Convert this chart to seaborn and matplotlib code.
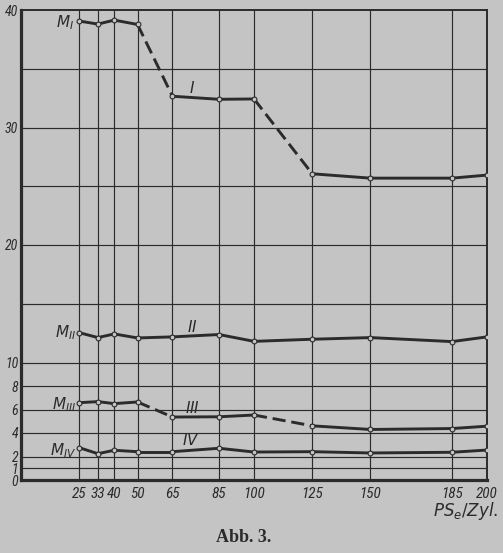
import matplotlib
matplotlib.use("Agg")
import matplotlib.pyplot as plt
from matplotlib import font_manager
import seaborn as sns
import pandas as pd

# ---- data ----
ps_zyl = [25, 33, 40, 50, 65, 85, 100, 125, 150, 185, 200]
curve_I = [39.06, 38.8, 39.14, 38.77, 32.66, 32.4, 32.43, 26.06, 25.69, 25.69, 25.95]
curve_II = [12.54, 12.12, 12.43, 12.09, 12.18, 12.38, 11.8, 11.98, 12.12, 11.78, 12.18]
curve_III = [6.58, 6.67, 6.5, 6.64, 5.36, 5.38, 5.53, 4.61, 4.3, 4.38, 4.58]
curve_IV = [2.75, 2.24, 2.53, 2.41, 2.41, 2.7, 2.38, 2.41, 2.3, 2.36, 2.55]
curve_names = ["I", "II", "III", "IV"]
ytick_values = [0, 1, 2, 4, 6, 8, 10, 15, 20, 25, 30, 35, 40]
ytick_labels = ["0", "1", "2", "4", "6", "8", "10", "", "20", "", "30", "", "40"]
xtick_labels = ["25", "33", "40", "50", "65", "85", "100", "125", "150", "185", "200"]
dashed_curves = ["I", "III"]

series = {"I": curve_I, "II": curve_II, "III": curve_III, "IV": curve_IV}
df = pd.concat([pd.DataFrame({"x": ps_zyl, "y": v, "curve": k}) for k, v in series.items()],
               ignore_index=True)

BG = "#c4c4c4"
INK = "#2b2b2b"

sns.set_theme(style="white")

# pick a narrow font if one is installed
names = {f.name for f in font_manager.fontManager.ttflist}
narrow = None
for cand in ["Liberation Sans Narrow", "DejaVu Sans Condensed", "Roboto Condensed",
             "Open Sans Condensed", "Noto Sans Condensed"]:
    if cand in names:
        narrow = cand
        break
plt.rcParams["font.family"] = [narrow, "DejaVu Sans"] if narrow else ["DejaVu Sans"]
tick_fs = 11 if narrow else 8.5
tick_kw = dict(fontsize=tick_fs, style="italic", color=INK)
if not narrow:
    tick_kw["family"] = ["DejaVu Sans"]
    tick_kw["fontstretch"] = "condensed"
ytick_kw = dict(tick_kw)
ytick_kw["fontsize"] = tick_fs - 1

fig = plt.figure(figsize=(5.03, 5.53), dpi=100, facecolor=BG)
ax = fig.add_axes([21/503, 1-480/553, (487-21)/503, (480-10)/553])
ax.set_facecolor(BG)

ax.set_xlim(0, 200)
ax.set_ylim(0, 40)

# grid
for yv in ytick_values[1:-1]:
    ax.axhline(yv, color=INK, lw=0.85, zorder=1)
for xv in ps_zyl[:-1]:
    ax.axvline(xv, color=INK, lw=0.85, zorder=1)

# segments: solid 0-3, dashed 3-4, solid 4-6, dashed 6-7, solid 7-10
segments = [(0, 4, False), (3, 5, True), (4, 7, False), (6, 8, True), (7, 11, False)]
for name in curve_names:
    sub = df[df.curve == name].reset_index(drop=True)
    for a, b, dash in segments:
        seg = sub.iloc[a:b]
        is_dash = dash and name in dashed_curves
        sns.lineplot(data=seg, x="x", y="y", ax=ax, color=INK, lw=2.1,
                     linestyle=(0, (4.5, 2)) if is_dash else "-",
                     sort=False, zorder=3, legend=False)
    sns.scatterplot(data=sub, x="x", y="y", ax=ax, marker="o", s=12,
                    facecolor=BG, edgecolor=INK, linewidth=0.8, zorder=4, legend=False)

# spines
for side in ["left", "bottom"]:
    ax.spines[side].set_linewidth(2.3)
    ax.spines[side].set_color(INK)
for side in ["top", "right"]:
    ax.spines[side].set_linewidth(1.4)
    ax.spines[side].set_color(INK)

ax.set_xticks(ps_zyl)
ax.set_xticklabels(xtick_labels, **tick_kw)
ax.set_yticks(ytick_values)
ax.set_yticklabels(ytick_labels, **ytick_kw)
ax.tick_params(axis="both", length=0)
ax.tick_params(axis="x", pad=5)
ax.tick_params(axis="y", pad=2)
ax.set_xlabel("")
ax.set_ylabel("")

# curve labels
lab_kw = dict(color=INK, fontsize=11, zorder=5)
ax.text(22.8, 38.9, r"$M_{I}$", ha="right", va="center", **lab_kw)
ax.text(23.7, 12.5, r"$M_{II}$", ha="right", va="center", **lab_kw)
ax.text(23.7, 6.4, r"$M_{III}$", ha="right", va="center", **lab_kw)
ax.text(23.7, 2.5, r"$M_{IV}$", ha="right", va="center", **lab_kw)
ax.text(73.5, 33.4, r"$I$", ha="center", va="center", **lab_kw)
ax.text(73.5, 13.0, r"$II$", ha="center", va="center", **lab_kw)
ax.text(73.5, 6.15, r"$III$", ha="center", va="center", **lab_kw)
ax.text(73, 3.4, r"$IV$", ha="center", va="center", **lab_kw)

fig.text(498/503, 1-511/553, r"$PS_e/Zyl.$", ha="right", va="center",
         fontsize=12, color=INK)
fig.text(244/503, 1-538/553, "Abb. 3.", ha="center", va="center",
         fontsize=13, fontweight="bold", family=["Liberation Serif", "DejaVu Serif"], color=INK)

fig.savefig("out.png", dpi=100, facecolor=BG)
